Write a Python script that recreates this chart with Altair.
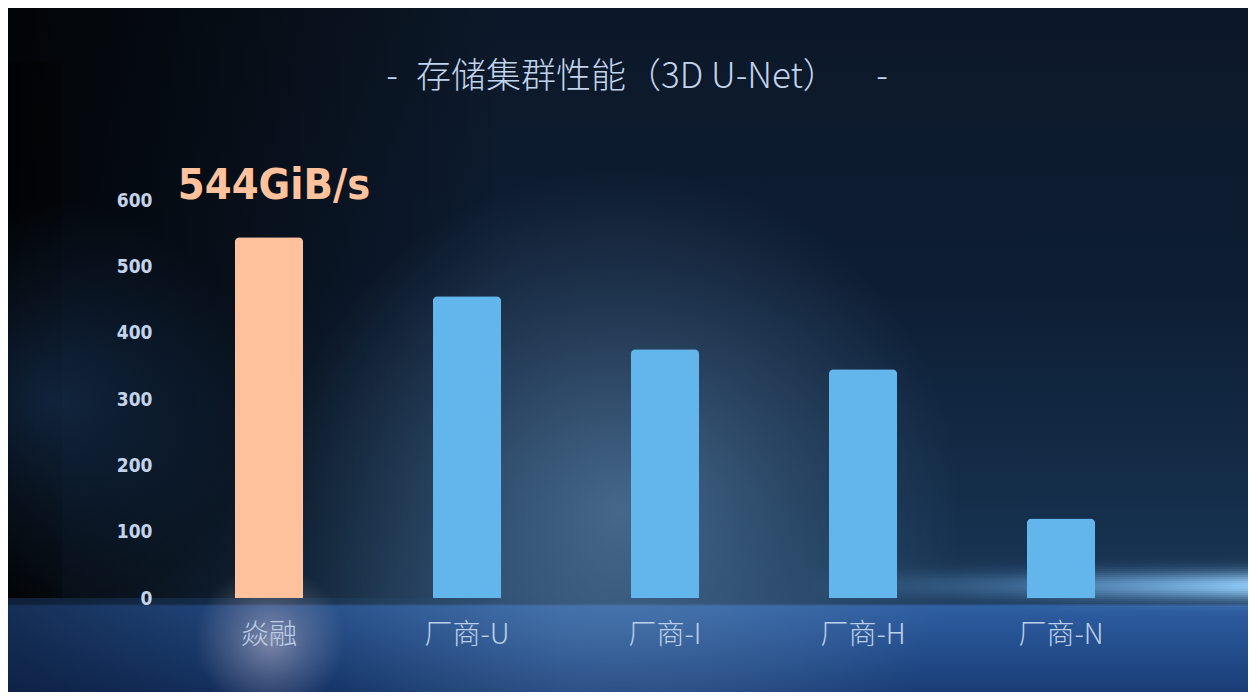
import math
import altair as alt
import pandas as pd

categories = ["焱融", "厂商-U", "厂商-I", "厂商-H", "厂商-N"]
values = [544, 455, 375, 345, 120]
highlight_label = "544GiB/s"
y_ticks = [0, 100, 200, 300, 400, 500, 600]
title_text = "存储集群性能（3D U-Net）"
title_dash = "-"

df = pd.DataFrame({"cat": categories, "val": values})
df["label"] = [highlight_label] + [""] * (len(categories) - 1)
df["hi"] = [c == categories[0] for c in categories]

W, H = 990, 398
PL, PT, PR, PB = 162, 192, 88, 94
M = 8  # page margin: reference pixel -> chart pixel

one = pd.DataFrame({"k": [0]})


def bg_rect(x0, x1, y0, y1, grad, opacity=1.0):
    # x0..y1 given in reference-picture pixels
    return alt.Chart(one).mark_rect(color=grad, clip=False, opacity=opacity).encode(
        x=alt.value(x0 - M - PL), x2=alt.value(x1 - M - PL),
        y=alt.value(y0 - M - PT), y2=alt.value(y1 - M - PT))


def stops(*pairs):
    return [alt.GradientStop(color=c, offset=o) for o, c in pairs]


def radial(rgb, a):
    return alt.RadialGradient(
        gradient="radial", x1=0.5, y1=0.5, r1=0, x2=0.5, y2=0.5, r2=0.5,
        stops=stops((0, f"rgba({rgb},{a})"), (0.5, f"rgba({rgb},{a*0.45})"),
                    (1, f"rgba({rgb},0)")))

base_v = alt.LinearGradient(
    gradient="linear", x1=0, x2=0, y1=0, y2=1,
    stops=stops((0, "#0c1828"), (0.4, "#0d1d33"), (0.75, "#15304d"),
                (0.862, "#1c3858"), (0.866, "#2d5da0"), (0.93, "#234d8b"),
                (1, "#183a72")))
left_dark = alt.LinearGradient(
    gradient="linear", x1=0, x2=1, y1=0, y2=0,
    stops=stops((0, "rgba(0,0,0,0.85)"), (0.2, "rgba(0,0,0,0.45)"),
                (0.4, "rgba(0,0,0,0)")))
left_dark_low = alt.LinearGradient(
    gradient="linear", x1=0, x2=1, y1=0, y2=0,
    stops=stops((0, "rgba(5,15,35,0.6)"), (0.25, "rgba(5,15,35,0.2)"),
                (0.45, "rgba(5,15,35,0)")))
streak_h = alt.LinearGradient(
    gradient="linear", x1=0, x2=1, y1=0, y2=0,
    stops=stops((0, "rgba(120,190,255,0)"), (0.45, "rgba(120,190,255,0.35)"),
                (1, "rgba(150,210,255,1)")))

bgs = [
    bg_rect(0, 1256, 0, 700, base_v),
    bg_rect(0, 1256, 0, 598, left_dark),
    bg_rect(0, 1256, 598, 700, left_dark_low),
    bg_rect(0, 62, 62, 598, alt.LinearGradient(
        gradient="linear", x1=0, x2=1, y1=0, y2=0,
        stops=stops((0, "rgba(0,0,0,0.6)"), (1, "rgba(0,0,0,0.3)")))),
    bg_rect(280, 960, 170, 850, radial("110,150,190", 0.55)),
    bg_rect(-150, 250, 200, 600, radial("40,90,150", 0.35)),
    bg_rect(195, 345, 565, 715, radial("220,205,220", 0.5)),
]
# soft bright streak along the baseline on the right (decoration only)
for dy in range(-38, 24, 2):
    op = 0.95 * math.exp(-((dy + 8) / 14.0) ** 2)
    bgs.append(bg_rect(800, 1256, 593 + dy, 595 + dy, streak_h, opacity=op))

axis_common = dict(ticks=False, domain=False, grid=False, zindex=1)
x_enc = alt.X("cat:N", sort=categories, title=None,
              scale=alt.Scale(paddingInner=0.655, paddingOuter=0.3275),
              axis=alt.Axis(labelAngle=0, labelFont="Noto Sans CJK SC",
                            labelFontSize=28, labelColor="#bccfe9",
                            labelPadding=23, labelFontWeight=300,
                            **axis_common))
y_enc = alt.Y("val:Q", title=None,
              scale=alt.Scale(domain=[0, 600], nice=False),
              axis=alt.Axis(values=y_ticks,
                            labelFont="DejaVu Sans Condensed, Liberation Sans Narrow, DejaVu Sans",
                            labelFontSize=19, labelFontWeight="bold",
                            labelColor="#c3d4ea", labelPadding=18, **axis_common))

bars = alt.Chart(df).mark_bar(cornerRadiusTopLeft=5, cornerRadiusTopRight=5).encode(
    x=x_enc, y=y_enc,
    color=alt.condition("datum.hi", alt.value("#ffc29c"), alt.value("#62b6ec")),
)
text = alt.Chart(df).mark_text(
    font="DejaVu Sans Condensed, Liberation Sans Narrow, DejaVu Sans",
    fontSize=43, fontWeight="bold", color="#ffc29c", baseline="bottom",
    dy=-29, dx=5,
).encode(x=alt.X("cat:N", sort=categories), y="val:Q", text="label:N")


def title_piece(txt, x, align):
    return alt.Chart(one).mark_text(
        text=txt, font="Noto Sans CJK SC", fontSize=35, color="#c2d4ec",
        align=align, baseline="middle", clip=False, fontWeight=300,
    ).encode(x=alt.value(x - M - PL), y=alt.value(77 - M - PT))

titles = [title_piece(title_dash, 392, "center"),
          title_piece(title_text, 416, "left"),
          title_piece(title_dash, 882, "center")]

chart = alt.layer(*bgs, bars, text, *titles).properties(
    width=W, height=H,
    padding={"left": PL, "top": PT, "right": PR, "bottom": PB},
    autosize=alt.AutoSizeParams(type="none"),
    background="#0a1526",
).configure_view(stroke=None)

chart.save("out.html", embed_options={"renderer": "svg", "actions": False})
